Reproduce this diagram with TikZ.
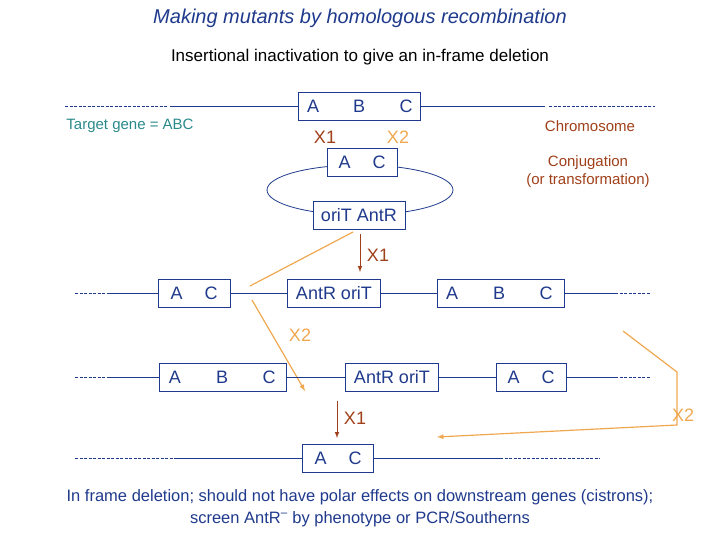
\documentclass[tikz,border=0pt]{standalone}
\usepackage{fontspec}
\setmainfont{Liberation Sans}
\begin{document}
\definecolor{navy}{HTML}{1F3A8C}
\definecolor{teal2}{HTML}{2A8A8A}
\definecolor{brn}{HTML}{A0401A}
\definecolor{org}{HTML}{F0A850}
\begin{tikzpicture}[x=1pt,y=-1pt,
  box/.style={draw=navy,text=navy,font=\fontsize{18}{20}\selectfont,minimum height=28pt,inner sep=0pt},
  ln/.style={draw=navy,line width=0.8pt},
  dl/.style={draw=navy,line width=0.6pt,dash pattern=on 3pt off 1.5pt},
  lbl/.style={font=\fontsize{18}{20}\selectfont},
  sml/.style={font=\fontsize{15}{18}\selectfont},
  oa/.style={draw=org,line width=1.2pt,-latex},
  ba/.style={draw=brn,line width=1pt,-latex}]
\useasboundingbox (0,0) rectangle (720,540);
\node[text=navy,font=\itshape\fontsize{20}{22}\selectfont] (t1) at (360,18) {Making mutants by homologous recombination};
\node[font=\fontsize{17}{19}\selectfont] (t2) at (360,57) {Insertional inactivation to give an in-frame deletion};
% row 1
\node[box,minimum width=122pt] (r1) at (359,106) {};
\node[text=navy,lbl] (r1a) at (313,106) {A};
\node[text=navy,lbl] (r1b) at (359,106) {B};
\node[text=navy,lbl] (r1c) at (406,106) {C};
\draw[dl] (65,106) -- (168,106);
\draw[ln] (170,106) -- (r1.west);
\draw[ln] (r1.east) -- (545,106);
\draw[dl] (549,106) -- (655,106);
\node[text=teal2,sml] (tg) at (130,126) {Target gene = ABC};
\node[text=brn,sml] (chr) at (590,126) {Chromosome};
\node[text=brn,lbl] (x1a) at (325,137) {X1};
\node[text=org,lbl] (x2a) at (398,137) {X2};
% plasmid
\draw[ln] (360,190) ellipse (93 and 25);
\node[box,fill=white,minimum width=70pt] (p1) at (362,162) {A\hspace{22pt}C};
\node[box,fill=white,minimum width=92pt] (p2) at (359,215) {oriT AntR};
\node[text=brn,sml,align=center] (cj) at (588,172) {Conjugation\\(or transformation)};
\coordinate (a1s) at (360,234);
\coordinate (a1e) at (360,272);
\draw[ba] (a1s) -- (a1e);
\node[text=brn,lbl] (x1b) at (378,255) {X1};
% row 2
\node[box,minimum width=72pt] (r2a) at (194,293) {A\hspace{22pt}C};
\node[box,minimum width=93pt] (r2b) at (334,293) {AntR oriT};
\node[box,minimum width=127pt] (r2c) at (501,293) {};
\node[text=navy,lbl] (r2c1) at (452,293) {A};
\node[text=navy,lbl] (r2c2) at (499,293) {B};
\node[text=navy,lbl] (r2c3) at (546,293) {C};
\draw[dl] (75,293) -- (110,293);
\draw[ln] (110,293) -- (r2a.west);
\draw[ln] (r2a.east) -- (r2b.west);
\draw[ln] (r2b.east) -- (r2c.west);
\draw[ln] (r2c.east) -- (615,293);
\draw[dl] (615,293) -- (650,293);
\coordinate (o1s) at (353,232);
\coordinate (o1e) at (250,286);
\draw[draw=org,line width=1.2pt] (o1s) -- (o1e);
\coordinate (o2s) at (252,300);
\coordinate (o2e) at (305,391);
\draw[oa] (o2s) -- (o2e);
\node[text=org,lbl] (x2b) at (300,335) {X2};
% row 3
\node[box,minimum width=127pt] (r3a) at (223,377) {};
\node[text=navy,lbl] (r3a1) at (175,377) {A};
\node[text=navy,lbl] (r3a2) at (222,377) {B};
\node[text=navy,lbl] (r3a3) at (269,377) {C};
\node[box,minimum width=93pt] (r3b) at (392,377) {AntR oriT};
\node[box,minimum width=70pt] (r3c) at (531,377) {A\hspace{22pt}C};
\draw[dl] (75,377) -- (110,377);
\draw[ln] (110,377) -- (r3a.west);
\draw[ln] (r3a.east) -- (r3b.west);
\draw[ln] (r3b.east) -- (r3c.west);
\draw[ln] (r3c.east) -- (615,377);
\draw[dl] (615,377) -- (650,377);
\coordinate (o3s) at (623,331);
\coordinate (o3m) at (677,372);
\coordinate (o3n) at (677,425);
\coordinate (o3e) at (437,437);
\draw[oa] (o3s) -- (o3m) -- (o3n) -- (o3e);
\node[text=org,lbl] (x2c) at (683,415) {X2};
\coordinate (a2s) at (337,401);
\coordinate (a2e) at (337,438);
\draw[ba] (a2s) -- (a2e);
\node[text=brn,lbl] (x1c) at (355,418) {X1};
% row 4
\node[box,minimum width=71pt] (r4) at (338,458) {A\hspace{22pt}C};
\draw[dl] (75,458) -- (175,458);
\draw[ln] (175,458) -- (r4.west);
\draw[ln] (r4.east) -- (500,458);
\draw[dl] (500,458) -- (600,458);
\node[font=\fontsize{16.5}{22}\selectfont,align=center,text=navy] (bt) at (360,508) {In frame deletion; should not have polar effects on downstream genes (cistrons);\\screen AntR\textsuperscript{--} by phenotype or PCR/Southerns};
\end{tikzpicture}
\end{document}
